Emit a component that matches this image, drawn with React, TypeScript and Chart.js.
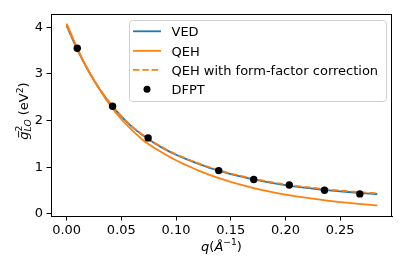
import React, { useEffect, useRef } from "react";
import { Chart, registerables } from "chart.js";

Chart.register(...registerables);

// ---- data ----
const qCurve = [0, 0.01, 0.02, 0.03, 0.04, 0.05, 0.06, 0.07, 0.08, 0.09, 0.1, 0.11, 0.12, 0.13, 0.14, 0.15, 0.16, 0.17, 0.18, 0.19, 0.2, 0.21, 0.22, 0.23, 0.24, 0.25, 0.26, 0.27, 0.28, 0.284];
const gVED = [4.03, 3.51, 3.06, 2.68, 2.36, 2.09, 1.86, 1.68, 1.52, 1.385, 1.27, 1.17, 1.08, 0.995, 0.92, 0.855, 0.8, 0.745, 0.7, 0.655, 0.62, 0.585, 0.557, 0.53, 0.506, 0.485, 0.466, 0.448, 0.432, 0.426];
const gQEH = [4.08, 3.54, 3.07, 2.67, 2.32, 2.03, 1.79, 1.58, 1.42, 1.28, 1.15, 1.04, 0.935, 0.845, 0.762, 0.688, 0.622, 0.562, 0.508, 0.46, 0.417, 0.378, 0.343, 0.311, 0.282, 0.256, 0.233, 0.211, 0.191, 0.184];
const gQEHff = [4.05, 3.52, 3.07, 2.69, 2.37, 2.1, 1.87, 1.69, 1.53, 1.395, 1.28, 1.18, 1.09, 1.007, 0.933, 0.868, 0.813, 0.759, 0.714, 0.67, 0.635, 0.601, 0.573, 0.547, 0.523, 0.502, 0.483, 0.465, 0.45, 0.444];
const qDFPT = [0.0097, 0.042, 0.0745, 0.139, 0.171, 0.2035, 0.2357, 0.268];
const gDFPT = [3.55, 2.31, 1.63, 0.93, 0.74, 0.62, 0.51, 0.43];
const xTicks = [0, 0.05, 0.1, 0.15, 0.2, 0.25];
const yTicks = [0, 1, 2, 3, 4];
const legendLabels = ["VED", "QEH", "QEH with form-factor correction", "DFPT"];

const FONT = "'DejaVu Sans'";
const FS = 13;
const BLUE = "#1f77b4";
const ORANGE = "#ff7f0e";

type Seg = { t: string; it?: boolean; size: number; dy?: number; adv?: boolean };

function segWidth(ctx: CanvasRenderingContext2D, segs: Seg[]) {
  let w = 0;
  for (const s of segs) {
    ctx.font = `${s.it ? "italic " : ""}${s.size}px ${FONT}`;
    if (s.adv !== false) w += ctx.measureText(s.t).width;
  }
  return w;
}

function drawSegs(ctx: CanvasRenderingContext2D, segs: Seg[], x: number, y: number, onSeg?: (s: Seg, cx: number, w: number) => void) {
  let cx = x;
  for (const s of segs) {
    ctx.font = `${s.it ? "italic " : ""}${s.size}px ${FONT}`;
    ctx.fillText(s.t, cx, y + (s.dy || 0));
    const w = ctx.measureText(s.t).width;
    if (onSeg) onSeg(s, cx, w);
    if (s.adv !== false) cx += w;
  }
}

const decorPlugin = {
  id: "decor",
  afterDraw(chart: any) {
    const ctx: CanvasRenderingContext2D = chart.ctx;
    const a = chart.chartArea;
    ctx.save();
    // frame
    ctx.strokeStyle = "#000";
    ctx.lineWidth = 1;
    ctx.strokeRect(Math.round(a.left) + 0.5, Math.round(a.top) + 0.5, Math.round(a.right - a.left) - 1, Math.round(a.bottom - a.top));

    // legend
    const lx = 129.5, ly = 20.5, lw = 257, lh = 81;
    ctx.beginPath();
    (ctx as any).roundRect(lx, ly, lw, lh, 3);
    ctx.fillStyle = "rgba(255,255,255,0.8)";
    ctx.fill();
    ctx.strokeStyle = "#d0d0d0";
    ctx.lineWidth = 1;
    ctx.stroke();
    const rowBase = [36, 55.5, 74.5, 94];
    const colors = [BLUE, ORANGE, ORANGE, "#000"];
    for (let i = 0; i < legendLabels.length; i++) {
      const cy = rowBase[i] - 4.7;
      if (i < 3) {
        ctx.beginPath();
        ctx.strokeStyle = colors[i];
        ctx.lineWidth = 1.8;
        ctx.setLineDash(i === 2 ? [6.5, 2.8] : []);
        ctx.moveTo(133, cy);
        ctx.lineTo(161, cy);
        ctx.stroke();
        ctx.setLineDash([]);
      } else {
        ctx.beginPath();
        ctx.fillStyle = "#000";
        ctx.arc(147, cy, 3.5, 0, Math.PI * 2);
        ctx.fill();
      }
      ctx.fillStyle = "#000";
      ctx.font = `${FS}px ${FONT}`;
      ctx.textBaseline = "alphabetic";
      ctx.textAlign = "left";
      ctx.fillText(legendLabels[i], 171.5, rowBase[i]);
    }

    // x title: q(Å^-1)
    ctx.fillStyle = "#000";
    ctx.textAlign = "left";
    ctx.textBaseline = "alphabetic";
    const xSegs: Seg[] = [
      { t: "q", it: true, size: FS },
      { t: "(", size: FS },
      { t: "Å", it: true, size: FS },
      { t: "\u22121", size: 9.2, dy: -5.5 },
      { t: ")", size: FS },
    ];
    const xw = segWidth(ctx, xSegs);
    drawSegs(ctx, xSegs, (a.left + a.right) / 2 - xw / 2, 250.5);

    // y title: g-bar^2_LO (eV^2)
    const ySegs: Seg[] = [
      { t: "g", it: true, size: FS },
      { t: "2", size: 9.2, dy: -6, adv: false },
      { t: "LO", it: true, size: 9.2, dy: 3.2 },
      { t: " (eV", size: FS },
      { t: "2", size: 9.2, dy: -5.5 },
      { t: ")", size: FS },
    ];
    ctx.translate(28, 111);
    ctx.rotate(-Math.PI / 2);
    const yw = segWidth(ctx, ySegs);
    drawSegs(ctx, ySegs, -yw / 2, 0, (s, cx, w) => {
      if (s.t === "g") {
        ctx.beginPath();
        ctx.strokeStyle = "#000";
        ctx.lineWidth = 0.9;
        ctx.moveTo(cx + 2.2, -9.4);
        ctx.lineTo(cx + 8.8, -9.4);
        ctx.stroke();
      }
    });
    ctx.restore();
  },
};

export default function App() {
  const ref = useRef<HTMLCanvasElement>(null);
  useEffect(() => {
    const canvas = ref.current!;
    const xy = (xs: number[], ys: number[]) => xs.map((x, i) => ({ x, y: ys[i] }));
    const lineDs = (label: string, data: number[], color: string, order: number, dash: number[] = []) => ({
      label,
      data: xy(qCurve, data),
      showLine: true,
      borderColor: color,
      backgroundColor: color,
      borderWidth: 1.8,
      borderDash: dash,
      pointRadius: 0,
      pointHoverRadius: 0,
      cubicInterpolationMode: "monotone" as const,
      order,
    });
    const chart = new Chart(canvas, {
      type: "scatter",
      data: {
        datasets: [
          lineDs(legendLabels[0], gVED, BLUE, 4),
          lineDs(legendLabels[1], gQEH, ORANGE, 3),
          lineDs(legendLabels[2], gQEHff, ORANGE, 2, [6.5, 2.8]),
          {
            label: legendLabels[3],
            data: xy(qDFPT, gDFPT),
            showLine: false,
            pointRadius: 3.7,
            pointBackgroundColor: "#000",
            pointBorderColor: "#000",
            pointBorderWidth: 0,
            order: 1,
          } as any,
        ],
      },
      options: {
        animation: false,
        responsive: false,
        devicePixelRatio: 1,
        events: [],
        layout: { padding: { left: 0, right: 15, top: 14, bottom: 0 } },
        plugins: { legend: { display: false }, tooltip: { enabled: false } },
        scales: {
          x: {
            type: "linear",
            min: -0.0143,
            max: 0.2974,
            afterBuildTicks: (s: any) => {
              s.ticks = xTicks.map((v) => ({ value: v }));
            },
            afterFit: (s: any) => {
              s.height = 55;
            },
            grid: { drawOnChartArea: false, drawTicks: true, tickLength: 4.5, tickColor: "#000", tickWidth: 1 },
            border: { display: true, color: "#000", width: 1 },
            ticks: {
              color: "#000",
              font: { family: FONT, size: FS },
              padding: 2,
              maxRotation: 0,
              autoSkip: false,
              callback: (v: any) => Number(v).toFixed(2),
            },
          },
          y: {
            type: "linear",
            min: -0.043,
            max: 4.285,
            afterBuildTicks: (s: any) => {
              s.ticks = yTicks.map((v) => ({ value: v }));
            },
            afterFit: (s: any) => {
              s.width = 51;
            },
            grid: { drawOnChartArea: false, drawTicks: true, tickLength: 4.5, tickColor: "#000", tickWidth: 1 },
            border: { display: true, color: "#000", width: 1 },
            ticks: {
              color: "#000",
              font: { family: FONT, size: FS },
              padding: 3.5,
              autoSkip: false,
              callback: (v: any) => String(Number(v)),
            },
          },
        },
      },
      plugins: [decorPlugin],
    } as any);
    return () => chart.destroy();
  }, []);
  return (
    <div style={{ position: "fixed", left: 0, top: 0, width: 407, height: 271, background: "#fff" }}>
      <canvas ref={ref} width={407} height={271} style={{ width: 407, height: 271, display: "block" }} />
    </div>
  );
}
